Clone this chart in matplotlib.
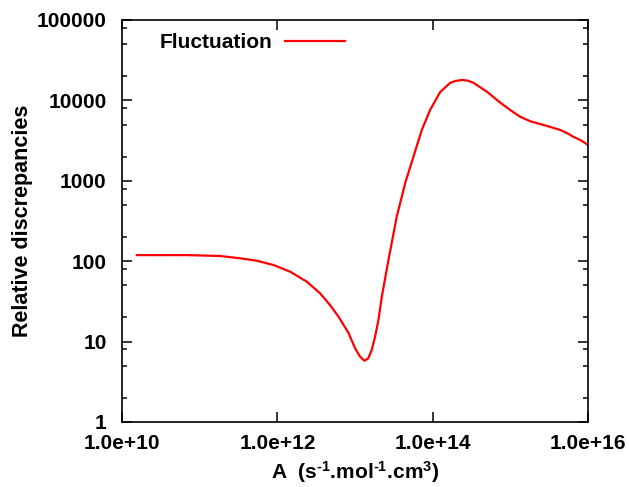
import numpy as np
import matplotlib
matplotlib.use("Agg")
import matplotlib.pyplot as plt
from matplotlib.ticker import FixedLocator, FixedFormatter, NullFormatter

plt.rcParams['font.family'] = ['Liberation Sans', 'DejaVu Sans']
plt.rcParams['font.weight'] = 'bold'
plt.rcParams['mathtext.fontset'] = 'custom'
plt.rcParams['mathtext.rm'] = 'Liberation Sans:bold'
plt.rcParams['mathtext.bf'] = 'Liberation Sans:bold'
plt.rcParams['mathtext.default'] = 'bf'
plt.rcParams['axes.unicode_minus'] = False

# data
A = [1.55e10, 6.8e10, 1.83e11, 3.3e11, 5.42e11, 8.87e11, 1.46e12, 2.39e12,
     3.54e12, 4.76e12, 6.1e12, 8.2e12, 1.0e13, 1.16e13, 1.32e13, 1.48e13,
     1.64e13, 1.81e13, 2.0e13, 2.21e13, 2.69e13, 3.44e13, 4.41e13, 5.64e13,
     7.23e13, 9.25e13, 1.24e14, 1.67e14, 1.95e14, 2.37e14, 2.8e14, 3.33e14,
     4.97e14, 7.36e14, 9.9e14, 1.33e15, 1.8e15, 2.41e15, 3.2e15, 4.36e15,
     5.4e15, 6.41e15, 8.0e15, 1.0e16]
fluct = [119, 119, 116, 108.7, 101.4, 89.7, 74, 55.6,
         39.9, 28.5, 20.5, 12.9, 8.26, 6.49, 5.78, 6.2,
         7.87, 11.5, 18.6, 36.2, 103.5, 358, 931, 1995,
         4285, 7600, 12600, 16500, 17400, 17950, 17600, 16600,
         12830, 9400, 7600, 6270, 5500, 5080, 4700, 4290,
         3900, 3540, 3200, 2790]

xticks = [1e10, 1e12, 1e14, 1e16]
xticklabels = ["1.0e+10", "1.0e+12", "1.0e+14", "1.0e+16"]
yticks = [1, 10, 100, 1000, 10000, 100000]
yticklabels = ["1", "10", "100", "1000", "10000", "100000"]
yminor = [m * 10.0 ** d for d in range(5) for m in (2, 5, 8)]

fig = plt.figure(figsize=(6.29, 4.87), dpi=100)
ax = fig.add_axes([0.194, 0.1335, 0.741, 0.8255])

ax.plot(A, fluct, color='#ff0000', lw=1.6, label='Fluctuation')

ax.set_xscale('log')
ax.set_yscale('log')
ax.set_xlim(1e10, 1e16)
ax.set_ylim(1, 100000)

ax.xaxis.set_major_locator(FixedLocator(xticks))
ax.xaxis.set_major_formatter(FixedFormatter(xticklabels))
ax.xaxis.set_minor_locator(FixedLocator([]))
ax.yaxis.set_major_locator(FixedLocator(yticks))
ax.yaxis.set_major_formatter(FixedFormatter(yticklabels))
ax.yaxis.set_minor_locator(FixedLocator(yminor))
ax.yaxis.set_minor_formatter(NullFormatter())

ax.tick_params(which='both', direction='in', top=True, right=True,
               width=1.1, labelsize=15)
ax.tick_params(which='major', length=7)
ax.tick_params(which='minor', length=3.5)
ax.tick_params(axis='x', pad=9)
ax.tick_params(axis='y', pad=11)
for s in ax.spines.values():
    s.set_linewidth(1.2)

ax.set_xlabel(r"A  (s$^{\text{-1}}$.mol$^{\text{-1}}$.cm$^{3}$)", fontsize=15,
              fontweight='bold', labelpad=4)
ax.set_ylabel("Relative discrepancies", fontsize=15.5, fontweight='bold',
              labelpad=3)

ax.legend(loc='center left', bbox_to_anchor=(0.08, 0.943), frameon=False,
          markerfirst=False, handlelength=2.9, handletextpad=0.62,
          borderpad=0, borderaxespad=0, prop={'size': 15, 'weight': 'bold'})

fig.savefig("out.png", dpi=100)
